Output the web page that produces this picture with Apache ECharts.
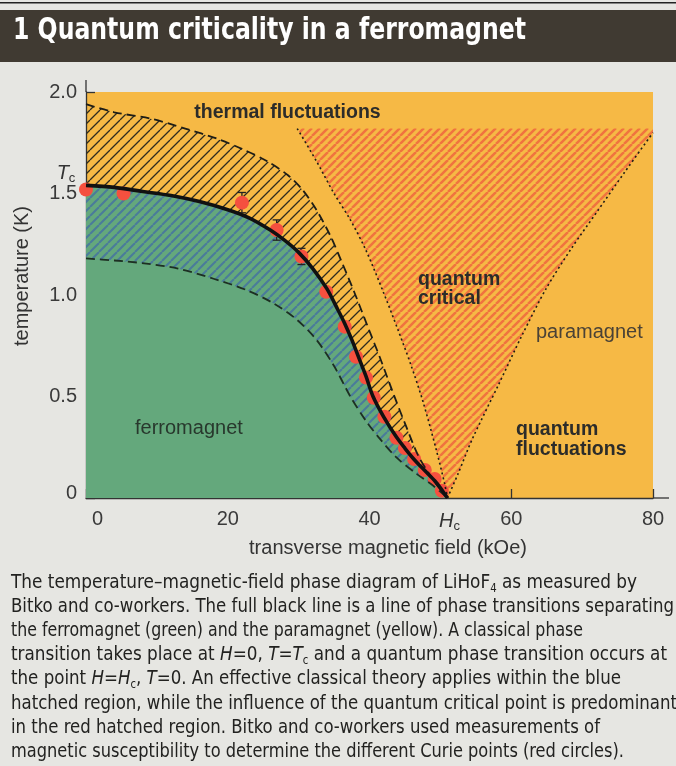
<!DOCTYPE html>
<html>
<head>
<meta charset="utf-8">
<script src="https://cdn.jsdelivr.net/npm/echarts@6/dist/echarts.min.js"></script>
<style>
html,body{margin:0;padding:0;background:#e6e6e2;}
#c{width:676px;height:766px;}
</style>
</head>
<body>
<div id="c"></div>
<script>
// ---------------- data (transverse field in kOe, temperature in K) ----------------
const xTicks = [0, 20, 40, 60, 80];
const yTicks = [0, 0.5, 1.0, 1.5, 2.0];
const criticalField = 51;      // Hc
const curieTempZero = 1.54;    // Tc

// measured Curie points (red circles)
const curieField = [0, 5.3, 22.0, 26.9, 30.4, 33.9, 36.5, 38.1, 39.5, 40.6, 42.1, 43.8, 45.0, 46.3, 47.8, 49.2, 50.2];
const curieTemp  = [1.52, 1.50, 1.455, 1.32, 1.19, 1.016, 0.844, 0.696, 0.593, 0.494, 0.40, 0.297, 0.246, 0.192, 0.138, 0.094, 0.036];

// error bars on three of the points
const errField = [22.0, 26.9, 30.4];
const errTemp  = [1.455, 1.32, 1.19];
const errSize  = [0.05, 0.05, 0.04];

// full black line: phase transitions
const phaseBoundary = [[0,1.54],[4,1.53],[8,1.51],[12,1.49],[16,1.46],[20,1.42],[23,1.38],[26,1.32],[28,1.27],[30,1.21],[32,1.13],[34,1.03],[35.5,0.93],[36.5,0.86],[37.5,0.78],[38.5,0.69],[39.5,0.60],[40.5,0.50],[42,0.40],[43.8,0.30],[45,0.245],[46.3,0.19],[47.8,0.135],[49.2,0.085],[50.2,0.04],[51,0]];
// dashed upper edge of the classical (black hatched) region
const outerDashed = [[0,1.94],[4,1.90],[9,1.87],[14,1.82],[18.5,1.77],[22,1.72],[25.5,1.66],[28.5,1.59],[30.5,1.52],[32.5,1.42],[34.5,1.29],[36,1.17],[37.9,1.01],[39.8,0.84],[41.6,0.68],[43.3,0.52],[45.2,0.35],[47,0.20],[49.4,0.07],[51,0]];
// dashed lower edge of the classical (blue hatched) region
const innerDashed = [[0,1.18],[4,1.17],[8.5,1.155],[13,1.13],[18,1.08],[22.6,1.025],[26.4,0.96],[29.7,0.88],[32.5,0.78],[35,0.65],[37.3,0.50],[39.5,0.38],[41.5,0.29],[43.8,0.20],[46.6,0.12],[49,0.06],[51,0]];
// dotted edges of the quantum critical (red hatched) wedge
const leftDotted  = [[29.8,1.82],[32.5,1.66],[35,1.50],[37.3,1.37],[39.5,1.22],[42,1.01],[44,0.83],[45.8,0.66],[47.5,0.48],[49.4,0.24],[50.6,0.07],[51,0]];
const rightDotted = [[51,0],[52.5,0.12],[54.5,0.29],[58.3,0.565],[61.5,0.80],[64.9,1.03],[68.5,1.23],[72.2,1.415],[76,1.605],[80,1.80]];
const wedgeTop = 1.82;

// texts
const titleText = '1 Quantum criticality in a ferromagnet';
const xName = 'transverse magnetic field (kOe)';
const yName = 'temperature (K)';
const captionLines = [
  'The temperature\u2013magnetic-field phase diagram of LiHoF{sub|4} as measured by',
  'Bitko and co-workers. The full black line is a line of phase transitions separating',
  'the ferromagnet (green) and the paramagnet (yellow). A classical phase',
  'transition takes place at {it|H}=0, {it|T}={it|T}{sub|c} and a quantum phase transition occurs at',
  'the point {it|H}={it|H}{sub|c}, {it|T}=0. An effective classical theory applies within the blue',
  'hatched region, while the influence of the quantum critical point is predominant',
  'in the red hatched region. Bitko and co-workers used measurements of',
  'magnetic susceptibility to determine the different Curie points (red circles).'
];

// ---------------- styling ----------------
const SANS = "'Liberation Sans', Arial, sans-serif";
const NARROW = "'Liberation Sans Narrow', 'DejaVu Sans Condensed', 'Liberation Sans', sans-serif";
const YELLOW = '#f6b945', GREEN = '#64a87c', RED = '#f5503f', INK = '#2c2c2a';

function hatch(tile, color, lw) {
  const c = document.createElement('canvas');
  c.width = c.height = tile;
  const g = c.getContext('2d');
  g.strokeStyle = color; g.lineWidth = lw;
  g.beginPath();
  for (const k of [-1, 0, 1]) { g.moveTo(k * tile, tile); g.lineTo(k * tile + tile, 0); }
  g.stroke();
  return c;
}
const blackHatch = {image: hatch(10, '#2e2b20', 1.3), repeat: 'repeat'};
const blueHatch  = {image: hatch(9, '#4a7b9b', 2.0), repeat: 'repeat'};
const redHatch   = {image: hatch(8, '#f0733f', 2.5), repeat: 'repeat'};

function region(pointsFn, fill) {
  return {
    type: 'custom', coordinateSystem: 'cartesian2d', data: [[0, 0]], silent: true, clip: true,
    renderItem: (params, api) => ({
      type: 'polygon',
      shape: {points: pointsFn().map(p => api.coord(p))},
      style: {fill: fill, stroke: null}
    })
  };
}
function curve(data, color, width, type) {
  return {type: 'line', data: data, symbol: 'none', smooth: 0.3, silent: true,
    lineStyle: {color: color, width: width, type: type}};
}

const meas = document.createElement('canvas').getContext('2d');
function measure(str, font) { meas.font = font; return meas.measureText(str).width; }
function richWidth(line, size, family) {
  let w = 0, last = 0; const re = /\{(\w+)\|([^}]*)\}/g; let m;
  while ((m = re.exec(line))) {
    w += measure(line.slice(last, m.index), size + 'px ' + family);
    if (m[1] === 'sub') w += measure(m[2], Math.round(size * 0.6) + 'px ' + family);
    else w += measure(m[2], 'italic ' + size + 'px ' + family);
    last = re.lastIndex;
  }
  w += measure(line.slice(last), size + 'px ' + family);
  return w;
}

// caption layout
const capSize = 20, capLeft = 11, capTop = 583, capStep = 24.06;
const capEnds = [637, 674, 583, 667, 621, 677, 600, 624];
const captionGraphics = captionLines.map((line, i) => ({
  type: 'text', id: 'cap' + i, x: capLeft, y: capTop + i * capStep, z: 100,
  scaleX: (capEnds[i] - capLeft) / richWidth(line, capSize, NARROW),
  style: {
    text: line, fontSize: capSize, fontFamily: NARROW, fill: '#222220',
    verticalAlign: 'middle', textVerticalAlign: 'middle', lineHeight: 24,
    rich: {
      it: {fontStyle: 'italic', fontSize: capSize, fontFamily: NARROW, fill: '#222220', lineHeight: 24},
      sub: {fontSize: Math.round(capSize * 0.6), fontFamily: NARROW, fill: '#222220', lineHeight: 24, verticalAlign: 'bottom'}
    }
  }
}));

const titleFont = 'bold 31px ' + NARROW;
const titleScale = 513 / measure(titleText, titleFont);

function label(id, text, x, y, bold, color, align) {
  return {type: 'text', id: id, x: x, y: y, z: 100, silent: true,
    style: {text: text, fontSize: bold ? 19.5 : 20, fontWeight: bold ? 'bold' : 'normal',
      fontFamily: SANS, fill: color, align: align || 'left', textAlign: align || 'left',
      verticalAlign: 'middle', textVerticalAlign: 'middle'}};
}

const option = {
  animation: false,
  backgroundColor: '#e6e6e2',
  grid: {left: 86, right: 23, top: 92, bottom: 268, show: true, backgroundColor: YELLOW, borderWidth: 0, containLabel: false, outerBoundsMode: 'none'},
  xAxis: {
    type: 'value', min: xTicks[0], max: xTicks[xTicks.length - 1], interval: 20,
    axisLine: {show: true, lineStyle: {color: '#333', width: 1.3}},
    axisTick: {show: true, inside: true, length: 9, lineStyle: {color: '#333', width: 1.3}},
    splitLine: {show: false},
    axisLabel: {
      color: '#3a3a3a', fontSize: 20, fontFamily: SANS, margin: 11,
      formatter: v => v === 0 ? '{z|0}' : String(v),
      rich: {z: {padding: [0, 0, 0, 23], fontSize: 20, fontFamily: SANS, color: '#3a3a3a'}}
    }
  },
  yAxis: {
    type: 'value', min: yTicks[0], max: yTicks[yTicks.length - 1], interval: 0.5,
    axisLine: {show: true, lineStyle: {color: '#333', width: 1.3}},
    axisTick: {show: true, inside: true, length: 9, lineStyle: {color: '#333', width: 1.3}},
    splitLine: {show: false},
    axisLabel: {
      color: '#3a3a3a', fontSize: 20, fontFamily: SANS, margin: 9,
      formatter: v => v === 0 ? '{z|0}' : v.toFixed(1),
      rich: {z: {padding: [0, 0, 10, 0], fontSize: 20, fontFamily: SANS, color: '#3a3a3a'}}
    }
  },
  series: [
    region(() => [[0, 0]].concat(phaseBoundary), GREEN),
    region(() => phaseBoundary.concat(innerDashed.slice().reverse()), blueHatch),
    region(() => outerDashed.concat(phaseBoundary.slice().reverse()), blackHatch),
    region(() => leftDotted.concat(rightDotted.slice(1)).concat([[rightDotted[rightDotted.length - 1][0], wedgeTop]]), redHatch),
    curve(outerDashed, '#1e1d16', 1.8, [9, 5]),
    curve(innerDashed, '#1d2f22', 1.8, [9, 5]),
    curve(leftDotted, '#1e1d16', 1.6, [2, 3]),
    curve(rightDotted, '#1e1d16', 1.6, [2, 3]),
    curve(phaseBoundary, '#111', 3.6, 'solid'),
    {
      type: 'custom', silent: true,
      data: errField.map((f, i) => [f, errTemp[i], errSize[i]]),
      renderItem: (params, api) => {
        const x = api.value(0), y = api.value(1), e = api.value(2);
        const a = api.coord([x, y + e]), b = api.coord([x, y - e]);
        const st = {stroke: '#222', lineWidth: 1.3};
        return {type: 'group', children: [
          {type: 'line', shape: {x1: a[0], y1: a[1], x2: b[0], y2: b[1]}, style: st},
          {type: 'line', shape: {x1: a[0] - 4, y1: a[1], x2: a[0] + 4, y2: a[1]}, style: st},
          {type: 'line', shape: {x1: b[0] - 4, y1: b[1], x2: b[0] + 4, y2: b[1]}, style: st}
        ]};
      }
    },
    {
      type: 'scatter', silent: true, symbol: 'circle', symbolSize: 14,
      itemStyle: {color: RED, opacity: 1},
      data: curieField.map((f, i) => [f, curieTemp[i]])
    }
  ],
  graphic: [
    {type: 'rect', id: 'rule', shape: {x: 0, y: 2, width: 676, height: 1.5}, style: {fill: '#222'}},
    {type: 'rect', id: 'bar', shape: {x: 0, y: 10, width: 676, height: 52}, style: {fill: '#403a32'}},
    {type: 'text', id: 'title', x: 13, y: 31, z: 100, scaleX: titleScale,
      style: {text: titleText, font: titleFont, fill: '#ffffff', verticalAlign: 'middle', textVerticalAlign: 'middle'}},
    label('l1', 'thermal fluctuations', 287.5, 113, true, INK, 'center'),
    label('l2', 'quantum', 418, 280, true, INK),
    label('l3', 'critical', 418, 299, true, INK),
    label('l4', 'paramagnet', 536, 332, false, '#4a4236'),
    label('l5', 'quantum', 516, 430, true, INK),
    label('l6', 'fluctuations', 516, 450, true, INK),
    label('l7', 'ferromagnet', 135, 428, false, '#28382d'),
    {type: 'text', id: 'xname', x: 388, y: 548, z: 100,
      style: {text: xName, fontSize: 20, fontFamily: SANS, fill: '#333', align: 'center', textAlign: 'center', verticalAlign: 'middle', textVerticalAlign: 'middle'}},
    {type: 'text', id: 'yname', x: 22, y: 276, z: 100, rotation: Math.PI / 2,
      style: {text: yName, fontSize: 20, fontFamily: SANS, fill: '#333', align: 'center', textAlign: 'center', verticalAlign: 'middle', textVerticalAlign: 'middle'}}
  ].concat(captionGraphics)
};

const chart = echarts.init(document.getElementById('c'), null, {renderer: 'canvas', width: 676, height: 766});
chart.setOption(option);

// axis-line overshoot and the Tc / Hc markers, positioned through the axes
const pTop = chart.convertToPixel({gridIndex: 0}, [xTicks[0], yTicks[yTicks.length - 1]]);
const pRight = chart.convertToPixel({gridIndex: 0}, [xTicks[xTicks.length - 1], yTicks[0]]);
const pHc = chart.convertToPixel({gridIndex: 0}, [criticalField, 0]);
const pTc = chart.convertToPixel({gridIndex: 0}, [0, curieTempZero]);
const markRich = {
  it: {fontStyle: 'italic', fontSize: 20, fontFamily: SANS, fill: '#333', lineHeight: 24},
  sub: {fontSize: 13, fontFamily: SANS, fill: '#333', lineHeight: 24, verticalAlign: 'bottom'}
};
chart.setOption({graphic: [
  {type: 'line', id: 'yext', shape: {x1: pTop[0], y1: pTop[1] - 12, x2: pTop[0], y2: pTop[1]}, style: {stroke: '#333', lineWidth: 1.3}},
  {type: 'line', id: 'xext', shape: {x1: pRight[0], y1: pRight[1], x2: pRight[0] + 16, y2: pRight[1]}, style: {stroke: '#333', lineWidth: 1.3}},
  {type: 'text', id: 'hc', x: pHc[0] + 2, y: pHc[1] + 23, z: 100,
    style: {text: '{it|H}{sub|c}', rich: markRich, align: 'center', textAlign: 'center', verticalAlign: 'middle', textVerticalAlign: 'middle'}},
  {type: 'text', id: 'tc', x: pTc[0] - 20, y: pTc[1] - 12, z: 100,
    style: {text: '{it|T}{sub|c}', rich: markRich, align: 'center', textAlign: 'center', verticalAlign: 'middle', textVerticalAlign: 'middle'}}
]});
</script>
</body>
</html>
